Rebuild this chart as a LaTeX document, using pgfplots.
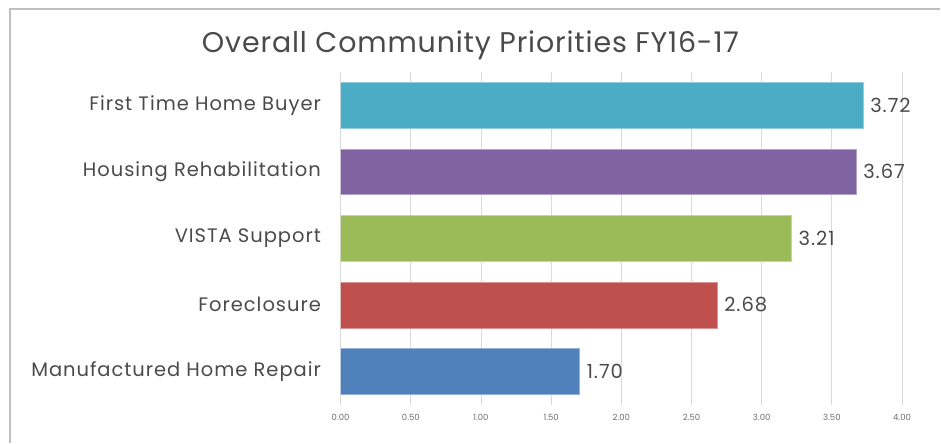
\documentclass[border=0pt]{standalone}
\usepackage{pgfplots}
\pgfplotsset{compat=1.18}
\usepackage{fontspec}
\setmainfont{Poppins}
\newfontfamily\wide[LetterSpace=5]{Poppins}
\newfontfamily\wideT[LetterSpace=3]{Poppins}
\definecolor{cTeal}{HTML}{4BACC6}
\definecolor{cPurple}{HTML}{8064A2}
\definecolor{cGreen}{HTML}{9BBB59}
\definecolor{cRed}{HTML}{C0504D}
\definecolor{cBlue}{HTML}{4F81BD}
\definecolor{txt}{HTML}{4A4A4A}
\definecolor{gridc}{HTML}{D9D9D9}
\begin{document}
\begin{tikzpicture}[x=1pt,y=1pt]
\path (0,0) rectangle (941,443);
\draw[color=black!25, line width=2pt] (10,0) -- (10,434) -- (941,434);
\node[text=txt, font=\wideT\fontsize{28.5}{32}\selectfont] at (471,398) {Overall Community Priorities FY16-17};
\begin{axis}[
    at={(341pt,38pt)}, anchor=south west,
    width=562pt, height=333pt, scale only axis,
    xmin=0, xmax=4, ymin=-0.5, ymax=4.5,
    xtick={0,0.5,...,4},
    ytick={0,1,2,3,4},
    yticklabels={Manufactured Home Repair, Foreclosure, VISTA Support, Housing Rehabilitation, First Time Home Buyer},
    y tick label style={font=\wide\fontsize{19.5}{22}\selectfont, text=txt, xshift=-12pt},
    x tick label style={font=\fontsize{8.5}{10}\selectfont, text=txt!80, yshift=-6pt},
    /pgf/number format/assume math mode=true,
    xticklabel={\pgfmathprintnumber[fixed, fixed zerofill, precision=2]{\tick}},
    axis line style={draw=none},
    major tick style={draw=none},
    xmajorgrids, grid style={gridc, line width=0.8pt},
    xbar, bar width=46pt, bar shift=0pt,
    nodes near coords,
    nodes near coords style={font=\wide\fontsize{19.5}{22}\selectfont, text=txt, xshift=4pt,
        /pgf/number format/.cd, fixed, fixed zerofill, precision=2},
]
\addplot[fill=cBlue, draw=cBlue!60!white] coordinates {(1.70,0)};
\addplot[fill=cRed, draw=cRed!60!white] coordinates {(2.68,1)};
\addplot[fill=cGreen, draw=cGreen!60!white] coordinates {(3.21,2)};
\addplot[fill=cPurple, draw=cPurple!60!white] coordinates {(3.67,3)};
\addplot[fill=cTeal, draw=cTeal!60!white] coordinates {(3.72,4)};
\end{axis}
\end{tikzpicture}
\end{document}
